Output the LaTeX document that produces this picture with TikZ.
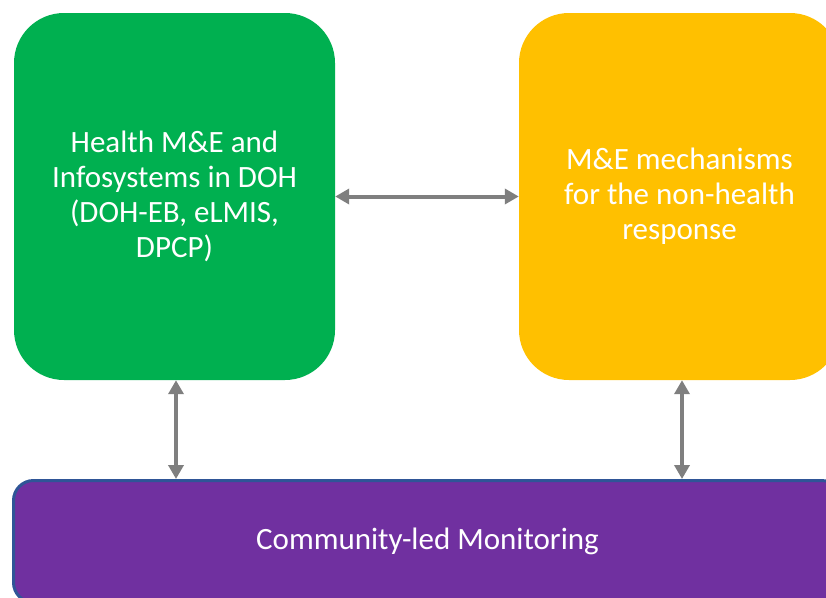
\documentclass[tikz,border=0pt]{standalone}
\usepackage{fontspec}
\setmainfont{Carlito}
\usepackage{xcolor}
\usepackage{tikz}
\usetikzlibrary{arrows.meta,positioning,calc}

\definecolor{boxgreen}{HTML}{00B050}
\definecolor{boxyellow}{HTML}{FFC000}
\definecolor{boxpurple}{HTML}{7030A0}
\definecolor{boxblue}{HTML}{2F5597}
\definecolor{arrgray}{HTML}{7F7F7F}

\begin{document}
\begin{tikzpicture}[
    x=1pt,
    y=-1pt,
    font=\fontsize{31}{35}\selectfont,
    box/.style={
        rounded corners=50pt,
        minimum width=321pt,
        minimum height=367pt,
        align=center,
        text=white,
        inner sep=0pt
    },
    band/.style={
        draw=boxblue,
        line width=3pt,
        rounded corners=20pt,
        fill=boxpurple,
        minimum width=828pt,
        minimum height=122pt,
        align=center,
        text=white,
        inner sep=0pt
    },
    arr/.style={
        {Triangle[width=15pt,length=14pt]}-{Triangle[width=15pt,length=14pt]},
        draw=arrgray,
        line width=4pt
    }
]

\clip (0,0) rectangle (826,597);
\useasboundingbox (0,0) rectangle (826,597);

% top row
\node[box, fill=boxgreen] (health) at (174.5,196.5)
{Health M\&E and\\
Infosystems in DOH\\
(DOH-EB, eLMIS,\\
DPCP)};

\node[box, fill=boxyellow] (nonhealth) at (679.5,196.5)
{M\&E mechanisms\\
for the non-health\\
response};

% bottom band
\node[band] (clm) at (427.5,541.5)
{Community-led Monitoring};

\draw[arr] (health.east) -- (nonhealth.west);
\draw[arr] ([xshift=1.5pt]health.south) -- ([xshift=1.5pt]health.south |- clm.north);
\draw[arr] ([xshift=2.5pt]nonhealth.south) -- ([xshift=2.5pt]nonhealth.south |- clm.north);

\end{tikzpicture}
\end{document}
